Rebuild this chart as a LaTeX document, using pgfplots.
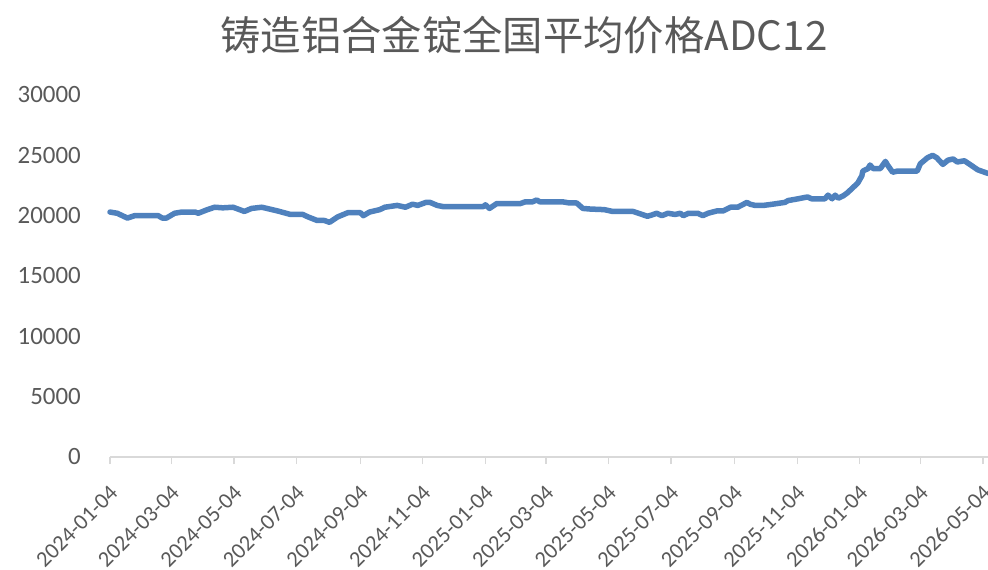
\documentclass[border=0pt]{standalone}
\usepackage{pgfplots}
\pgfplotsset{compat=1.18}
\usepackage{fontspec}
\setmainfont{Carlito}
\newfontfamily\cjk{Noto Sans CJK SC}
\definecolor{txt}{RGB}{89,89,89}
\definecolor{axisgray}{RGB}{217,217,217}
\definecolor{series}{RGB}{79,129,189}
\begin{document}
\begin{tikzpicture}
\useasboundingbox (-110bp,-113bp) rectangle (878bp,457bp);
\begin{axis}[
 at={(0,0)}, anchor=south west,
 width=878bp, height=362bp, scale only axis,
 xmin=0, xmax=856, ymin=0, ymax=30000,
 axis x line*=bottom, axis y line*=left,
 y axis line style={draw=none},
 x axis line style={draw=axisgray, line width=1.3bp, -},
 ytick={0,5000,...,30000},
 scaled y ticks=false,
 ytick style={draw=none},
 xtick={0,60,121,182,244,305,366,425,486,547,609,670,731,790,851},
 xticklabels={2024-01-04,2024-03-04,2024-05-04,2024-07-04,2024-09-04,2024-11-04,2025-01-04,2025-03-04,2025-05-04,2025-07-04,2025-09-04,2025-11-04,2026-01-04,2026-03-04,2026-05-04},
 xtick style={draw=axisgray, line width=1.3bp},
 tick align=outside, major tick length=7bp,
 yticklabel style={font=\fontsize{25}{25}\selectfont, text=txt, anchor=east, inner sep=0pt, xshift=-22bp},
 xticklabel style={font=\fontsize{22.5}{22.5}\selectfont, text=txt, xshift=4bp, yshift=-25bp, rotate=45, anchor=east, inner sep=0pt},
 /pgf/number format/1000 sep={},
 /pgf/number format/assume math mode=true,
 clip=false,
]
\addplot[series, line width=5.5bp, line join=round, line cap=round] table {
x y
0 20300
7 20200
17 19800
24 20000
47 20000
51 19800
55 19800
63 20200
70 20300
83 20300
86 20200
95 20500
102 20700
110 20650
120 20700
131 20350
138 20600
148 20700
158 20500
163 20400
176 20100
188 20100
193 19900
202 19600
209 19600
214 19450
222 19900
232 20250
244 20250
247 20000
253 20300
263 20500
268 20700
280 20850
288 20700
295 20950
300 20850
308 21100
312 21100
319 20850
325 20750
364 20750
366 20900
370 20600
377 21000
400 21000
405 21150
412 21150
416 21300
419 21150
441 21150
448 21050
455 21050
461 20600
468 20550
482 20500
490 20350
510 20350
517 20150
524 19950
528 20050
533 20200
538 20000
544 20200
551 20100
556 20200
559 20000
564 20200
573 20200
578 20000
583 20200
592 20400
598 20400
605 20700
612 20700
621 21100
624 20950
629 20850
637 20850
646 20950
658 21100
661 21250
671 21400
680 21550
684 21400
697 21400
700 21700
704 21400
707 21700
710 21450
715 21650
719 21900
724 22300
729 22700
733 23300
734 23700
739 23900
741 24200
744 23900
751 23900
756 24500
758 24200
763 23600
768 23700
787 23700
790 24300
797 24800
802 25000
806 24800
812 24250
817 24600
822 24700
826 24450
833 24550
840 24150
846 23800
856 23500
};
\end{axis}
\node[font=\cjk\fontsize{40.5}{40}\selectfont, text=txt] at (414bp,422bp) {铸造铝合金锭全国平均价格ADC12};
\end{tikzpicture}
\end{document}
